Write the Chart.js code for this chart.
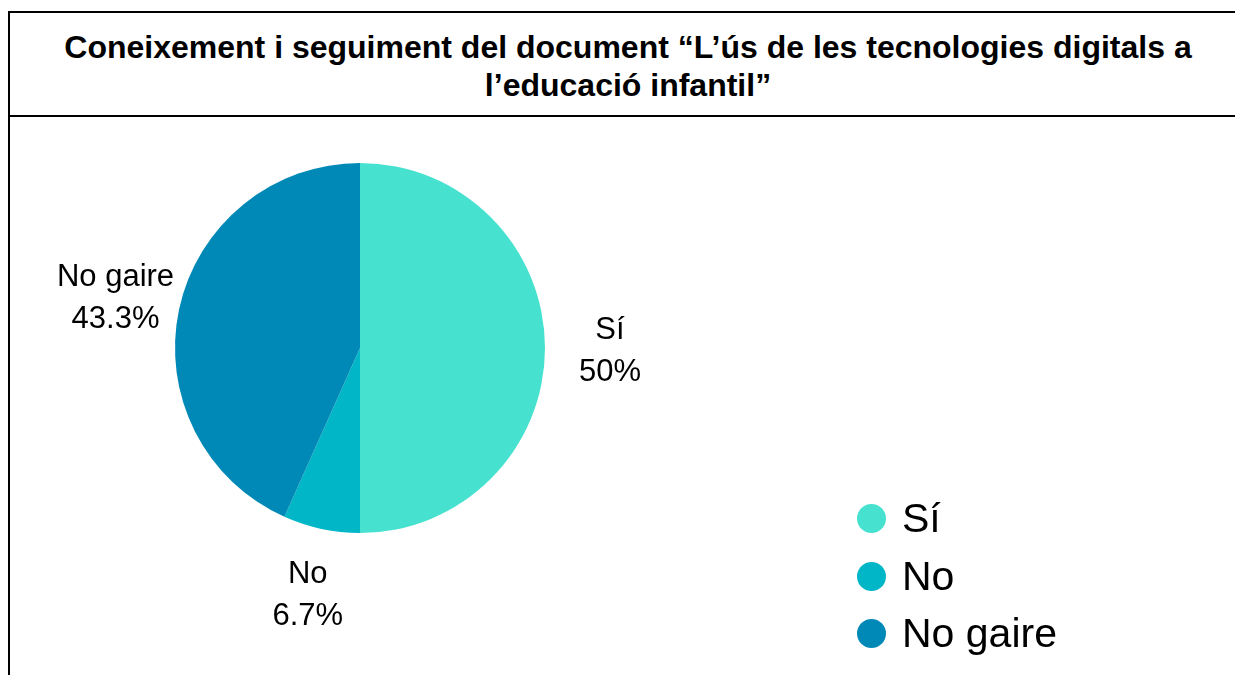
<!DOCTYPE html>
<html>
<head>
<meta charset="utf-8">
<script src="https://cdn.jsdelivr.net/npm/chart.js@4"></script>
<style>
  body { margin: 0; background: #fff; width: 1235px; height: 675px; overflow: hidden; position: relative; font-family: "Liberation Sans", Arial, sans-serif; }
  .frame { position: absolute; left: 8px; top: 11px; width: 1240px; height: 700px; border: 2px solid #000; box-sizing: border-box; }
  .title { position: absolute; left: 0; top: 0; width: 100%; height: 104px; border-bottom: 2px solid #000; box-sizing: border-box;
           font-weight: bold; font-size: 32px; line-height: 38px; text-align: center; padding-top: 15px; color: #000; }
  #chart { position: absolute; left: 0; top: 0; }
  .legend { position: absolute; left: 857px; top: 490px; font-size: 41px; color: #000; }
  .legend div { height: 57.5px; display: flex; align-items: center; }
  .legend span.dot { display: inline-block; width: 29px; height: 29px; border-radius: 50%; margin-right: 16px; }
</style>
</head>
<body>
<div class="frame">
  <div class="title">Coneixement i seguiment del document “L’ús de les tecnologies digitals a<br>l’educació infantil”</div>
</div>
<canvas id="chart" width="1235" height="675"></canvas>
<div class="legend" id="legend"></div>
<script>
// dades
const categories = ['Sí', 'No', 'No gaire'];
const values = [50, 6.7, 43.3];
const colors = ['#47e1d0', '#00b6c7', '#0089b7'];

// llegenda
const legend = document.getElementById('legend');
categories.forEach((c, i) => {
  const row = document.createElement('div');
  row.innerHTML = '<span class="dot" style="background:' + colors[i] + '"></span>' + c;
  legend.appendChild(row);
});

// etiquetes fora del pastís
const outsideLabels = {
  id: 'outsideLabels',
  afterDatasetsDraw(chart) {
    const ctx = chart.ctx;
    const meta = chart.getDatasetMeta(0);
    ctx.save();
    ctx.font = '31px "Liberation Sans", Arial, sans-serif';
    ctx.fillStyle = '#000';
    ctx.textAlign = 'center';
    ctx.textBaseline = 'middle';
    meta.data.forEach((arc, i) => {
      const mid = (arc.startAngle + arc.endAngle) / 2;
      const r = arc.outerRadius + 65;
      const x = arc.x + Math.cos(mid) * r;
      const y = arc.y + Math.sin(mid) * r + 3;
      ctx.fillText(categories[i], x, y - 21);
      ctx.fillText(values[i] + '%', x, y + 21);
    });
    ctx.restore();
  }
};

new Chart(document.getElementById('chart').getContext('2d'), {
  type: 'pie',
  data: {
    labels: categories,
    datasets: [{
      data: values,
      backgroundColor: colors,
      borderWidth: 0
    }]
  },
  options: {
    responsive: false,
    animation: false,
    layout: { padding: { left: 175, right: 690, top: 163, bottom: 142 } },
    plugins: {
      legend: { display: false },
      tooltip: { enabled: false }
    }
  },
  plugins: [outsideLabels]
});
</script>
</body>
</html>
